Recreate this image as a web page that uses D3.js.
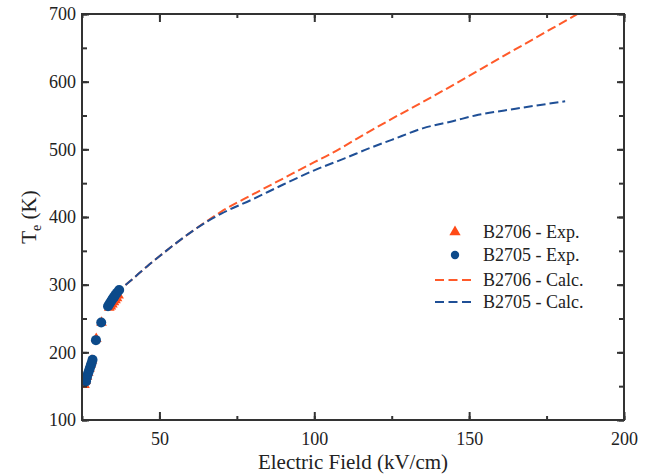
<!DOCTYPE html>
<html>
<head>
<meta charset="utf-8">
<script src="https://cdn.jsdelivr.net/npm/d3@7"></script>
<style>
  body { margin: 0; background: #fff; }
  svg text { font-family: "Liberation Serif", "Times New Roman", serif; fill: #222; }
</style>
</head>
<body>
<svg id="chart"></svg>
<script>
// experimental points
var expB2706_x = [25.8, 26.2, 26.6, 27.0, 27.4, 27.8, 28.2, 29.6, 31.3, 33.8, 34.3, 34.8, 35.3, 35.8, 36.3, 36.8];
var expB2706_y = [152, 158, 164, 170, 176, 182, 188, 220, 244, 266, 268, 271, 274, 277, 280, 284];
var expB2705_x = [26.3, 26.6, 26.9, 27.2, 27.5, 27.8, 28.1, 28.4, 29.5, 31.2, 33.4, 33.8, 34.2, 34.6, 35.0, 35.4, 35.8, 36.3, 37.0];
var expB2705_y = [157, 163, 168, 172, 176, 180, 184, 189, 218, 244, 268, 271, 274, 277, 280, 282, 285, 288, 292];

// calculated curves
var calcB2706_x = [36, 38, 42, 46, 50, 55, 60, 66, 70, 80, 90, 100, 106, 112, 118, 125, 135, 146, 160, 175, 185, 190];
var calcB2706_y = [286, 295, 311, 327, 342, 360, 377, 396, 408, 433, 457, 481, 495, 511, 527, 545, 570, 598, 635, 674, 700, 713];
var calcB2705_x = [36, 38, 42, 46, 50, 55, 60, 66, 70, 80, 90, 100, 110, 118, 125, 135, 145, 152, 165, 181];
var calcB2705_y = [286, 295, 311, 327, 342, 360, 377, 395, 405, 426, 448, 469, 487, 502, 514, 531, 542, 550, 560, 571];

var xTicks = [50, 100, 150, 200];
var yTicks = [100, 200, 300, 400, 500, 600, 700];

var orange = "#ff4a17", blue = "#0c4a8a";
var orangeLine = "#ff5a2a", blueLine = "#1f4f96";

var width = 657, height = 476;
var margin = {top: 14, right: 33, bottom: 56, left: 82};

var svg = d3.select("#chart").attr("width", width).attr("height", height);

var x = d3.scaleLinear().domain([25, 200]).range([margin.left, width - margin.right]);
var y = d3.scaleLinear().domain([100, 700]).range([height - margin.bottom, margin.top]);

function zip(xs, ys) { return xs.map((v, i) => ({x: v, y: ys[i]})); }

svg.append("clipPath").attr("id", "clip")
  .append("rect")
    .attr("x", x(25)).attr("y", y(700))
    .attr("width", x(200) - x(25)).attr("height", y(100) - y(700));

var line = d3.line().x(d => x(d.x)).y(d => y(d.y)).curve(d3.curveMonotoneX);

var plot = svg.append("g").attr("clip-path", "url(#clip)");

plot.append("path")
  .datum(zip(calcB2706_x, calcB2706_y))
  .attr("d", line)
  .attr("fill", "none")
  .attr("stroke", orangeLine)
  .attr("stroke-width", 2)
  .attr("stroke-dasharray", "9,4");

plot.append("path")
  .datum(zip(calcB2705_x, calcB2705_y))
  .attr("d", line)
  .attr("fill", "none")
  .attr("stroke", blueLine)
  .attr("stroke-width", 2)
  .attr("stroke-dasharray", "9,4");

var tri = d3.symbol().type(d3.symbolTriangle).size(50);

plot.append("g")
  .selectAll("path")
  .data(zip(expB2706_x, expB2706_y))
  .enter()
  .append("path")
    .attr("d", tri)
    .attr("transform", d => `translate(${x(d.x)},${y(d.y)})`)
    .attr("fill", orange);

plot.append("g")
  .selectAll("circle")
  .data(zip(expB2705_x, expB2705_y))
  .enter()
  .append("circle")
    .attr("cx", d => x(d.x))
    .attr("cy", d => y(d.y))
    .attr("r", 5)
    .attr("fill", blue);

// axes, ticks inward on all four sides
var xMinor = d3.range(25, 201, 25);
var yMinor = d3.range(100, 701, 50);

function styleAxis(g) {
  g.select(".domain").remove();
  g.selectAll("line").attr("stroke", "#333").attr("stroke-width", 2);
}

svg.append("g")
  .attr("transform", `translate(0,${y(100)})`)
  .call(d3.axisBottom(x).tickValues(xMinor).tickSize(-4).tickFormat(""))
  .call(styleAxis);
svg.append("g")
  .attr("transform", `translate(0,${y(100)})`)
  .call(d3.axisBottom(x).tickValues(xTicks).tickSize(-8).tickPadding(12).tickFormat(d3.format("d")))
  .call(styleAxis)
  .selectAll("text").attr("font-size", 18);

svg.append("g")
  .attr("transform", `translate(0,${y(700)})`)
  .call(d3.axisTop(x).tickValues(xMinor).tickSize(-4).tickFormat(""))
  .call(styleAxis);
svg.append("g")
  .attr("transform", `translate(0,${y(700)})`)
  .call(d3.axisTop(x).tickValues(xTicks).tickSize(-8).tickFormat(""))
  .call(styleAxis);

svg.append("g")
  .attr("transform", `translate(${x(25)},0)`)
  .call(d3.axisLeft(y).tickValues(yMinor).tickSize(-5).tickFormat(""))
  .call(styleAxis);
svg.append("g")
  .attr("transform", `translate(${x(25)},0)`)
  .call(d3.axisLeft(y).tickValues(yTicks).tickSize(-7).tickPadding(6).tickFormat(d3.format("d")))
  .call(styleAxis)
  .selectAll("text").attr("font-size", 18);

svg.append("g")
  .attr("transform", `translate(${x(200)},0)`)
  .call(d3.axisRight(y).tickValues(yMinor).tickSize(-5).tickFormat(""))
  .call(styleAxis);
svg.append("g")
  .attr("transform", `translate(${x(200)},0)`)
  .call(d3.axisRight(y).tickValues(yTicks).tickSize(-7).tickFormat(""))
  .call(styleAxis);

// frame
svg.append("rect")
  .attr("x", x(25)).attr("y", y(700))
  .attr("width", x(200) - x(25)).attr("height", y(100) - y(700))
  .attr("fill", "none")
  .attr("stroke", "#333")
  .attr("stroke-width", 2);

// axis titles
svg.append("text")
  .attr("x", (x(25) + x(200)) / 2)
  .attr("y", 469)
  .attr("text-anchor", "middle")
  .attr("font-size", 21)
  .text("Electric Field (kV/cm)");

var yl = svg.append("text")
  .attr("transform", `translate(36,${(y(100) + y(700)) / 2}) rotate(-90)`)
  .attr("text-anchor", "middle")
  .attr("font-size", 21);
yl.append("tspan").text("T");
yl.append("tspan").attr("font-size", 14).attr("dy", 5).text("e");
yl.append("tspan").attr("dy", -5).text(" (K)");

// legend
var legend = [
  {label: "B2706 - Exp.", kind: "tri", color: orange},
  {label: "B2705 - Exp.", kind: "circle", color: blue},
  {label: "B2706 - Calc.", kind: "line", color: orangeLine},
  {label: "B2705 - Calc.", kind: "line", color: blueLine}
];
var rowY = [232, 255, 280, 302];

var lg = svg.append("g")
  .selectAll("g")
  .data(legend)
  .enter()
  .append("g")
    .attr("transform", (d, i) => `translate(0,${rowY[i]})`);

lg.each(function(d) {
  var g = d3.select(this);
  if(d.kind === "tri") {
    g.append("path").attr("d", d3.symbol().type(d3.symbolTriangle).size(55))
      .attr("transform", "translate(455,0)").attr("fill", d.color);
  }
  else if(d.kind === "circle") {
    g.append("circle").attr("cx", 455).attr("cy", 0).attr("r", 4.2).attr("fill", d.color);
  }
  else {
    g.append("line").attr("x1", 435).attr("x2", 472).attr("y1", 0).attr("y2", 0)
      .attr("stroke", d.color).attr("stroke-width", 2).attr("stroke-dasharray", "9,4.5");
  }
});

lg.append("text")
  .attr("x", 483)
  .attr("dy", "0.35em")
  .attr("font-size", 18)
  .text(d => d.label);
</script>
</body>
</html>
